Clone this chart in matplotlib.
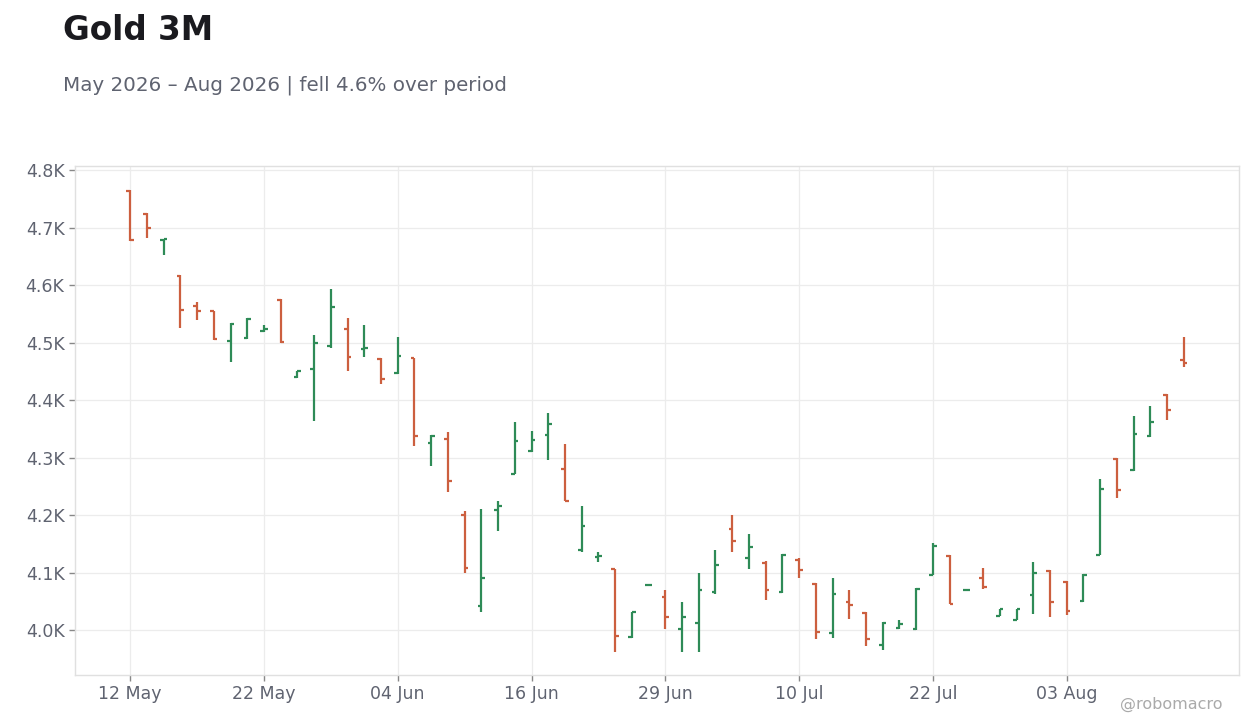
import matplotlib
matplotlib.use("Agg")
import matplotlib.pyplot as plt
import pandas as pd
from matplotlib.ticker import FuncFormatter

# daily OHLC (business days, US holidays skipped)
holidays = ["2026-05-25", "2026-06-19", "2026-07-03"]
dates = pd.bdate_range("2026-05-12", "2026-08-12", freq="C", holidays=holidays)

opens = [4763, 4723, 4678, 4615, 4564, 4554, 4503, 4508, 4520, 4574,
         4440, 4454, 4494, 4524, 4489, 4472, 4447, 4473, 4325, 4333,
         4201, 4042, 4209, 4272, 4311, 4340, 4281, 4140, 4127, 4106,
         3988, 4079, 4058, 4002, 4013, 4067, 4176, 4125, 4117, 4067,
         4122, 4081, 3995, 4049, 4030, 3975, 4004, 4002, 4096, 4129,
         4069, 4091, 4025, 4018, 4061, 4103, 4084, 4050, 4131, 4298,
         4278, 4337, 4409, 4470]
highs = [4765, 4725, 4680, 4617, 4570, 4555, 4534, 4542, 4530, 4576,
         4451, 4513, 4593, 4543, 4530, 4473, 4510, 4474, 4340, 4344,
         4207, 4210, 4224, 4362, 4346, 4377, 4323, 4216, 4136, 4107,
         4032, 4080, 4070, 4049, 4099, 4139, 4200, 4167, 4120, 4132,
         4125, 4082, 4090, 4070, 4031, 4015, 4017, 4073, 4151, 4130,
         4070, 4108, 4037, 4037, 4118, 4104, 4085, 4097, 4263, 4300,
         4372, 4390, 4410, 4510]
lows = [4677, 4681, 4652, 4526, 4540, 4505, 4467, 4506, 4518, 4500,
        4439, 4364, 4490, 4451, 4475, 4428, 4446, 4321, 4286, 4241,
        4100, 4031, 4173, 4271, 4310, 4296, 4224, 4135, 4119, 3962,
        3987, 4078, 4002, 3962, 3962, 4062, 4135, 4107, 4053, 4065,
        4091, 3985, 3987, 4020, 3973, 3965, 4002, 4000, 4095, 4045,
        4068, 4072, 4024, 4017, 4028, 4022, 4027, 4049, 4130, 4229,
        4277, 4336, 4366, 4458]
closes = [4678, 4700, 4680, 4557, 4554, 4507, 4532, 4541, 4523, 4501,
          4450, 4499, 4562, 4475, 4491, 4437, 4477, 4338, 4337, 4260,
          4108, 4091, 4216, 4329, 4331, 4359, 4225, 4181, 4129, 3990,
          4031, 4079, 4022, 4023, 4069, 4114, 4155, 4145, 4070, 4131,
          4105, 3997, 4062, 4044, 3985, 4013, 4011, 4072, 4147, 4046,
          4069, 4075, 4036, 4036, 4100, 4049, 4034, 4096, 4246, 4243,
          4341, 4362, 4383, 4465]

UP = "#2e8b57"
DOWN = "#cc5f3f"
TEXT = "#5f6370"

x = list(range(len(dates)))
colors = [UP if c >= o else DOWN for o, c in zip(opens, closes)]
tick = 0.22

fig = plt.figure(figsize=(12.6, 7.28), dpi=100)
ax = fig.add_axes([0.0595, 0.0728, 0.9238, 0.6992])

ax.vlines(x, lows, highs, colors=colors, linewidth=1.6)
ax.hlines(opens, [i - tick for i in x], x, colors=colors, linewidth=1.6)
ax.hlines(closes, x, [i + tick for i in x], colors=colors, linewidth=1.6)

ax.set_xlim(-3.3, 66.3)
ax.set_ylim(3922, 4807)
ax.set_yticks(range(4000, 4801, 100))
ax.yaxis.set_major_formatter(FuncFormatter(lambda v, p: f"{v / 1000:.1f}K"))

xt = x[::8]
ax.set_xticks(xt)
ax.set_xticklabels([dates[i].strftime("%d %b") for i in xt])

ax.grid(True, color="#ececec", linewidth=0.9)
ax.set_axisbelow(True)
for s in ax.spines.values():
    s.set_color("#e0e0e0")
    s.set_linewidth(1)
ax.tick_params(colors=TEXT, labelsize=12.5, length=4, width=1)
ax.tick_params(axis="both", color="#888888")

fig.text(0.05, 0.958, "Gold 3M", fontsize=23.5, fontweight="bold",
         color="#1a1a1f", va="center")
fig.text(0.05, 0.883, "May 2026 \u2013 Aug 2026 | fell 4.6% over period",
         fontsize=14.3, color=TEXT, va="center")
fig.text(0.97, 0.032, "@robomacro", fontsize=11.5, color="#aaaaaa",
         ha="right", va="center")

fig.savefig("out.png", dpi=100)
